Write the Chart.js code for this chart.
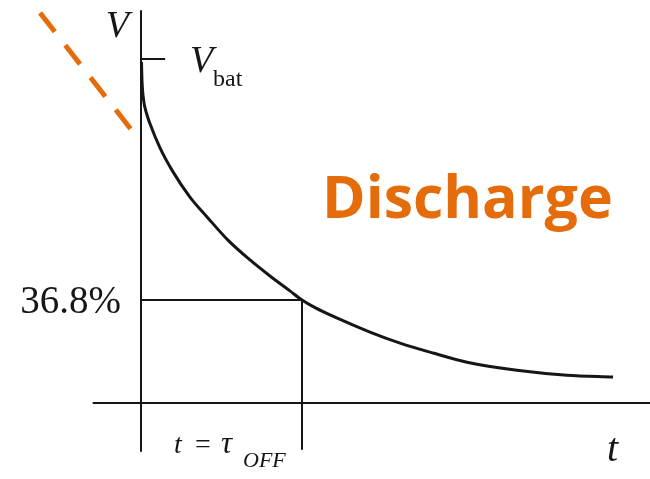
<!DOCTYPE html>
<html>
<head>
<meta charset="utf-8">
<script src="https://cdn.jsdelivr.net/npm/chart.js@4"></script>
<style>
  html, body { margin: 0; padding: 0; background: #ffffff; }
  #wrap { width: 650px; height: 479px; position: relative; }
</style>
</head>
<body>
<div id="wrap"><canvas id="discharge-chart"></canvas></div>
<script>
// time in units of tau, voltage in % of V_bat
const curveT = [0.003, 0.006, 0.016, 0.034, 0.056, 0.118, 0.199, 0.304, 0.410, 0.540, 0.677, 0.801, 0.925, 1.000,
  1.081, 1.205, 1.422, 1.609, 1.814, 2.025, 2.335, 2.646, 2.932];
const curveV = [99.2, 94.5, 89.3, 85.8, 83.0, 76.7, 70.4, 63.8, 58.6, 52.5, 47.3, 43.1, 39.2, 36.8,
  34.8, 32.3, 28.4, 25.5, 22.9, 20.5, 18.4, 17.1, 16.6];
const vBat = 100;
const tauLevel = 36.8;
const tauOff = 1;
const baseLevel = 9.8;
// falling trend marker (dashed, orange)
const trendT = [-0.627, -0.05];
const trendV = [112.1, 80.9];

const ink = '#161616';
const orange = '#E46C0A';

const toPoints = (xs, ys) => xs.map((x, i) => ({ x, y: ys[i] }));

const labels = {
  id: 'labels',
  afterDraw(chart) {
    const { ctx, scales } = chart;
    const x0 = scales.x.getPixelForValue(0);
    const xTau = scales.x.getPixelForValue(tauOff);
    const yBat = scales.y.getPixelForValue(vBat);
    const yTau = scales.y.getPixelForValue(tauLevel);
    const serif = '"Liberation Serif", "DejaVu Serif", serif';

    ctx.save();
    ctx.fillStyle = ink;
    ctx.textBaseline = 'alphabetic';

    ctx.textAlign = 'right';
    ctx.font = 'italic 38px ' + serif;
    ctx.fillText('V', x0 - 12, 37);

    ctx.textAlign = 'left';
    ctx.fillText('V', x0 + 49, yBat + 13);
    ctx.font = '24px ' + serif;
    ctx.fillText('bat', x0 + 72, yBat + 27);

    ctx.textAlign = 'right';
    ctx.font = '39px ' + serif;
    ctx.fillText('36.8%', x0 - 20, yTau + 13);

    ctx.textAlign = 'left';
    ctx.font = 'italic 28px ' + serif;
    ctx.fillText('t', x0 + 33, 453);
    ctx.font = '28px ' + serif;
    ctx.fillText('=', x0 + 54, 453);
    ctx.font = 'italic 31px ' + serif;
    ctx.fillText('\u03C4', x0 + 80, 453);
    ctx.font = 'italic 22px ' + serif;
    ctx.fillText('OFF', xTau - 59, 467);

    ctx.font = 'italic 40px ' + serif;
    ctx.fillText('t', 607, 461);

    ctx.fillStyle = orange;
    ctx.font = 'bold 59px "Open Sans", sans-serif';
    ctx.fillText('Discharge', 322, 218);
    ctx.restore();
  },
};

const segment = (data, width) => ({
  data,
  borderColor: ink,
  borderWidth: width,
  pointRadius: 0,
  fill: false,
  tension: 0,
});

new Chart(document.getElementById('discharge-chart'), {
  type: 'line',
  data: {
    datasets: [
      {
        label: 'V(t)',
        data: toPoints(curveT, curveV),
        borderColor: ink,
        borderWidth: 3,
        pointRadius: 0,
        fill: false,
        cubicInterpolationMode: 'monotone',
      },
      segment([{ x: 0, y: 112.8 }, { x: 0, y: -3 }], 2),
      segment([{ x: -0.3, y: baseLevel }, { x: 3.3, y: baseLevel }], 2),
      segment([{ x: 0, y: vBat }, { x: 0.15, y: vBat }], 2),
      segment([{ x: 0, y: tauLevel }, { x: tauOff, y: tauLevel }], 2),
      segment([{ x: tauOff, y: tauLevel }, { x: tauOff, y: -2.5 }], 2),
      {
        label: 'trend',
        data: toPoints(trendT, trendV),
        borderColor: orange,
        borderWidth: 5,
        borderDash: [24, 17],
        borderCapStyle: 'butt',
        pointRadius: 0,
        fill: false,
      },
    ],
  },
  options: {
    animation: false,
    responsive: true,
    maintainAspectRatio: false,
    layout: { padding: 0 },
    plugins: {
      legend: { display: false },
      tooltip: { enabled: false },
    },
    scales: {
      x: { type: 'linear', display: false, min: -0.8758, max: 3.1615 },
      y: { type: 'linear', display: false, min: -10.14, max: 115.48 },
    },
  },
  plugins: [labels],
});
</script>
</body>
</html>
